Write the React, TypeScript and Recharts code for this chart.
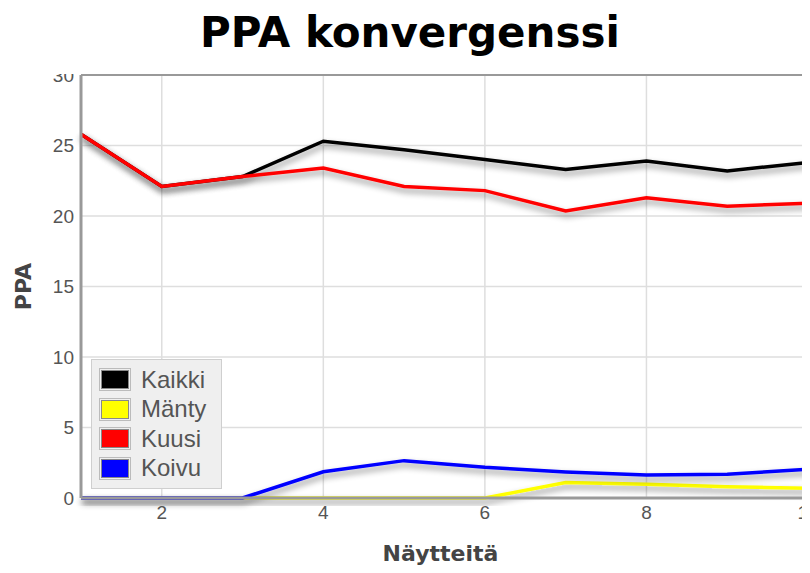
import { LineChart, Line, XAxis, YAxis, CartesianGrid, Legend, ReferenceLine } from "recharts"

const samples = [1, 2, 3, 4, 5, 6, 7, 8, 9, 10]
const kaikki = [25.8, 22.1, 22.8, 25.3, 24.7, 24.0, 23.3, 23.9, 23.2, 23.8]
const manty = [0, 0, 0, 0, 0, 0, 1.1, 0.97, 0.8, 0.7]
const kuusi = [25.8, 22.1, 22.8, 23.4, 22.1, 21.8, 20.35, 21.3, 20.7, 20.9]
const koivu = [0, 0, 0, 1.86, 2.65, 2.18, 1.85, 1.63, 1.68, 2.04]

const xTicks = [2, 4, 6, 8, 10]
const yTicks = [0, 5, 10, 15, 20, 25, 30]

const series = [
  { key: "Kaikki", color: "#000000" },
  { key: "Mänty", color: "#ffff00" },
  { key: "Kuusi", color: "#ff0000" },
  { key: "Koivu", color: "#0000ff" },
]

const data = samples.map((n, i) => ({
  n,
  Kaikki: kaikki[i],
  Mänty: manty[i],
  Kuusi: kuusi[i],
  Koivu: koivu[i],
}))

const tickStyle = { fontSize: 19, fill: "#555", fontFamily: "'Liberation Sans', Arial, sans-serif" }
const labelFont = "'DejaVu Sans', Verdana, sans-serif"

function LegendBox() {
  return (
    <div
      style={{
        width: 131,
        height: 130,
        background: "#efefef",
        border: "1px solid #cfcfcf",
        paddingTop: 5,
        boxSizing: "border-box",
      }}
    >
      {series.map((s) => (
        <div key={s.key} style={{ display: "flex", alignItems: "center", height: 29.5, paddingLeft: 7 }}>
          <div style={{ border: "1px solid #bbb", padding: 1, marginRight: 10 }}>
            <div style={{ width: 26, height: 17, background: s.color, border: "1px solid #888" }} />
          </div>
          <span
            style={{
              fontSize: 24,
              lineHeight: 1,
              color: "#555",
              fontFamily: "'Liberation Sans', Arial, sans-serif",
            }}
          >
            {s.key}
          </span>
        </div>
      ))}
    </div>
  )
}

export default function App() {
  return (
    <div style={{ position: "relative", width: 810, height: 573, margin: -8, overflow: "hidden", background: "#fff" }}>
      <LineChart width={832} height={573} data={data} margin={{ top: 75, right: 24, bottom: 0, left: 0 }}>
        <defs>
          <filter id="shadow" x="-5%" y="-30%" width="110%" height="180%">
            <feDropShadow dx="1" dy="4" stdDeviation="3" floodColor="#000" floodOpacity="0.45" />
          </filter>
        </defs>
        <CartesianGrid stroke="#dedede" strokeWidth={1.5} />
        <XAxis
          dataKey="n"
          type="number"
          domain={[1, 10]}
          ticks={xTicks}
          height={75}
          tickSize={0}
          tickMargin={8}
          tick={tickStyle}
          axisLine={{ stroke: "#999", strokeWidth: 3 }}
          label={{
            content: (props: any) => {
              const vb = props.viewBox
              return (
                <text
                  x={vb.x + vb.width / 2 - 4}
                  y={561}
                  textAnchor="middle"
                  fontSize={22}
                  fontWeight="bold"
                  fill="#444"
                  fontFamily={labelFont}
                >
                  Näytteitä
                </text>
              )
            },
          }}
        />
        <YAxis
          domain={[0, 30]}
          ticks={yTicks}
          width={81}
          tickSize={0}
          tickMargin={7}
          tick={tickStyle}
          axisLine={{ stroke: "#999", strokeWidth: 3 }}
          label={{
            content: (props: any) => {
              const vb = props.viewBox
              const cy = vb.y + vb.height / 2
              return (
                <text
                  x={23}
                  y={cy}
                  transform={`rotate(-90, 23, ${cy})`}
                  textAnchor="middle"
                  dominantBaseline="central"
                  fontSize={22}
                  fontWeight="bold"
                  fill="#444"
                  fontFamily={labelFont}
                >
                  PPA
                </text>
              )
            },
          }}
        />
        <ReferenceLine y={30} stroke="#999" strokeWidth={2} />
        <ReferenceLine x={10} stroke="#999" strokeWidth={2} />
        {series.map((s) => (
          <Line
            key={s.key}
            dataKey={s.key}
            stroke={s.color}
            strokeWidth={3.5}
            dot={false}
            filter="url(#shadow)"
            isAnimationActive={false}
          />
        ))}
        <Legend
          layout="horizontal"
          align="center"
          verticalAlign="middle"
          wrapperStyle={{ left: 91, top: 359, width: 131 }}
          content={() => <LegendBox />}
        />
      </LineChart>
      <div
        style={{
          position: "absolute",
          top: 0,
          left: 0,
          width: 810,
          height: 74,
          background: "#fff",
          boxSizing: "border-box",
          paddingTop: 8,
          paddingLeft: 10,
          textAlign: "center",
          fontFamily: labelFont,
          fontWeight: "bold",
          fontSize: 42,
          color: "#000",
        }}
      >
        PPA konvergenssi
      </div>
    </div>
  )
}
